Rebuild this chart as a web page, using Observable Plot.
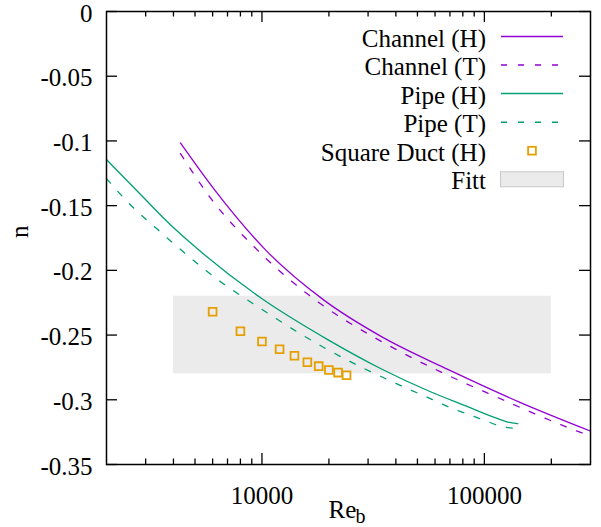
<!DOCTYPE html>
<html>
<head>
<meta charset="utf-8">
<script src="https://cdn.jsdelivr.net/npm/d3@7"></script>
<script src="https://cdn.jsdelivr.net/npm/@observablehq/plot@0.6"></script>
<style>
  body { margin: 0; background: #fff; }
  #chart { width: 601px; height: 527px; }
</style>
</head>
<body>
<div id="chart"></div>
<script>
// Power-law exponent n against bulk Reynolds number Re_b
const channelHRe = [4300, 6100, 10350, 19060, 34300, 68450, 96600, 143700, 300000];
const channelHN  = [-0.1016, -0.1375, -0.184, -0.2232, -0.251, -0.2765, -0.2885, -0.3018, -0.3242];

const channelTRe = [4300, 5900, 9400, 18750, 29890, 40780, 77950, 109100, 249900, 300000];
const channelTN  = [-0.1098, -0.1446, -0.1832, -0.227, -0.2489, -0.2618, -0.2855, -0.2966, -0.3229, -0.328];

const pipeHRe = [2000, 2860, 4030, 4630, 9900, 19750, 34300, 57570, 81280, 114900, 127500, 141300];
const pipeHN  = [-0.1144, -0.1418, -0.1675, -0.1768, -0.2214, -0.2535, -0.276, -0.294, -0.3043, -0.3146, -0.3172, -0.3185];

const pipeTRe = [2000, 2600, 3400, 5085, 6700, 7900, 9160, 10610, 14220, 23000, 37380, 59570, 72100, 85600, 100000, 118900, 140300];
const pipeTN  = [-0.1291, -0.1505, -0.1685, -0.1943, -0.2103, -0.2187, -0.226, -0.233, -0.2469, -0.2674, -0.285, -0.3005, -0.3069, -0.3115, -0.3159, -0.3204, -0.3223];

const ductRe = [6000, 8000, 10000, 12000, 14000, 16000, 18000, 20000, 22000, 24000];
const ductN  = [-0.232, -0.247, -0.255, -0.261, -0.266, -0.271, -0.274, -0.277, -0.279, -0.281];

// Fitt range: Re_b span and exponent span
const fittRe = [4000, 200000];
const fittN  = [-0.28, -0.22];

const xTickLabels = [10000, 100000];
const xMinorTicks = [3000, 4000, 5000, 6000, 7000, 8000, 9000,
                     20000, 30000, 40000, 50000, 60000, 70000, 80000, 90000, 200000];
const yTickValues = [0, -0.05, -0.1, -0.15, -0.2, -0.25, -0.3, -0.35];

const legendLabels = ["Channel (H)", "Channel (T)", "Pipe (H)", "Pipe (T)", "Square Duct (H)", "Fitt"];

const PURPLE = "#9400d3", GREEN = "#009e73", ORANGE = "#e69f00", BAND = "#ebebeb";
const FONT = "'Liberation Serif', 'Times New Roman', serif";
const DASH = "6,11";

const W = 601, H = 527, mL = 106, mR = 11, mT = 11, mB = 63;
const fw = W - mL - mR, fh = H - mT - mB;

const series = (re, n) => re.map((x, i) => ({re: x, n: n[i]}));

const majorLen = 11, minorLen = 5.5;
const tickStyle = {stroke: "black", strokeWidth: 1.3};

const plot = Plot.plot({
  width: W, height: H,
  marginLeft: mL, marginRight: mR, marginTop: mT, marginBottom: mB,
  style: {fontFamily: FONT, fontSize: "25px", background: "white", color: "black"},
  x: {type: "log", domain: [2000, 300000]},
  y: {domain: [-0.35, 0]},
  marks: [
    Plot.rect([{x1: fittRe[0], x2: fittRe[1], y1: fittN[0], y2: fittN[1]}],
      {x1: "x1", x2: "x2", y1: "y1", y2: "y2", fill: BAND}),
    Plot.line(series(channelHRe, channelHN), {x: "re", y: "n", stroke: PURPLE, strokeWidth: 1.3, curve: "monotone-x", clip: true}),
    Plot.line(series(channelTRe, channelTN), {x: "re", y: "n", stroke: PURPLE, strokeWidth: 1.3, strokeDasharray: DASH, curve: "monotone-x", clip: true}),
    Plot.line(series(pipeHRe, pipeHN), {x: "re", y: "n", stroke: GREEN, strokeWidth: 1.3, curve: "monotone-x", clip: true}),
    Plot.line(series(pipeTRe, pipeTN), {x: "re", y: "n", stroke: GREEN, strokeWidth: 1.3, strokeDasharray: DASH, curve: "monotone-x", clip: true}),
    Plot.dot(series(ductRe, ductN), {x: "re", y: "n", symbol: "square", r: 4.4, stroke: ORANGE, strokeWidth: 1.8, fill: "none"}),

    // inward tick marks on all four sides
    Plot.ruleX(xTickLabels, {...tickStyle, insetTop: fh - majorLen}),
    Plot.ruleX(xTickLabels, {...tickStyle, insetBottom: fh - majorLen}),
    Plot.ruleX(xMinorTicks, {...tickStyle, insetTop: fh - minorLen}),
    Plot.ruleX(xMinorTicks, {...tickStyle, insetBottom: fh - minorLen}),
    Plot.ruleY(yTickValues, {...tickStyle, insetRight: fw - majorLen}),
    Plot.ruleY(yTickValues, {...tickStyle, insetLeft: fw - majorLen}),

    Plot.frame({stroke: "black", strokeWidth: 1.5}),

    Plot.axisX({ticks: xTickLabels, tickSize: 0, tickPadding: 22, tickFormat: d => String(d), fontSize: 25, label: null}),
    Plot.axisY({ticks: yTickValues, tickSize: 0, tickPadding: 14, tickFormat: d => String(d), fontSize: 25, label: null, dy: 2}),

    // axis titles
    Plot.text(["n"], {text: d => d, frameAnchor: "left", rotate: -90, dx: -87, fontSize: 25}),
    Plot.text(["Re"], {text: d => d, frameAnchor: "bottom", textAnchor: "start", lineAnchor: "bottom", dx: -20, dy: 53, fontSize: 25}),
    Plot.text(["b"], {text: d => d, frameAnchor: "bottom", textAnchor: "start", lineAnchor: "bottom", dx: 7, dy: 58, fontSize: 20})
  ]
});

document.getElementById("chart").appendChild(plot);

// Key in the upper right of the plot area
const key = d3.select(plot).append("g")
  .attr("font-family", FONT)
  .attr("font-size", 25)
  .attr("fill", "black");

const rowY = i => 36.5 + i * 28.55;
const textX = 486, sampleX1 = 501, sampleX2 = 563;

legendLabels.forEach((label, i) => {
  const y = rowY(i);
  key.append("text")
    .attr("x", textX).attr("y", y + 10)
    .attr("text-anchor", "end")
    .text(label);
  if (i < 4) {
    key.append("line")
      .attr("x1", sampleX1).attr("x2", sampleX2)
      .attr("y1", y).attr("y2", y)
      .attr("stroke", i < 2 ? PURPLE : GREEN)
      .attr("stroke-width", 1.5)
      .attr("stroke-dasharray", i % 2 === 1 ? DASH : null);
  } else if (i === 4) {
    key.append("rect")
      .attr("x", 532 - 3.9).attr("y", y - 3.9)
      .attr("width", 7.8).attr("height", 7.8)
      .attr("fill", "none")
      .attr("stroke", ORANGE)
      .attr("stroke-width", 1.8);
  } else {
    key.append("rect")
      .attr("x", 500.5).attr("y", y - 7.5)
      .attr("width", 63).attr("height", 15)
      .attr("fill", BAND)
      .attr("stroke", "#c8c8c8")
      .attr("stroke-width", 1);
  }
});
</script>
</body>
</html>
